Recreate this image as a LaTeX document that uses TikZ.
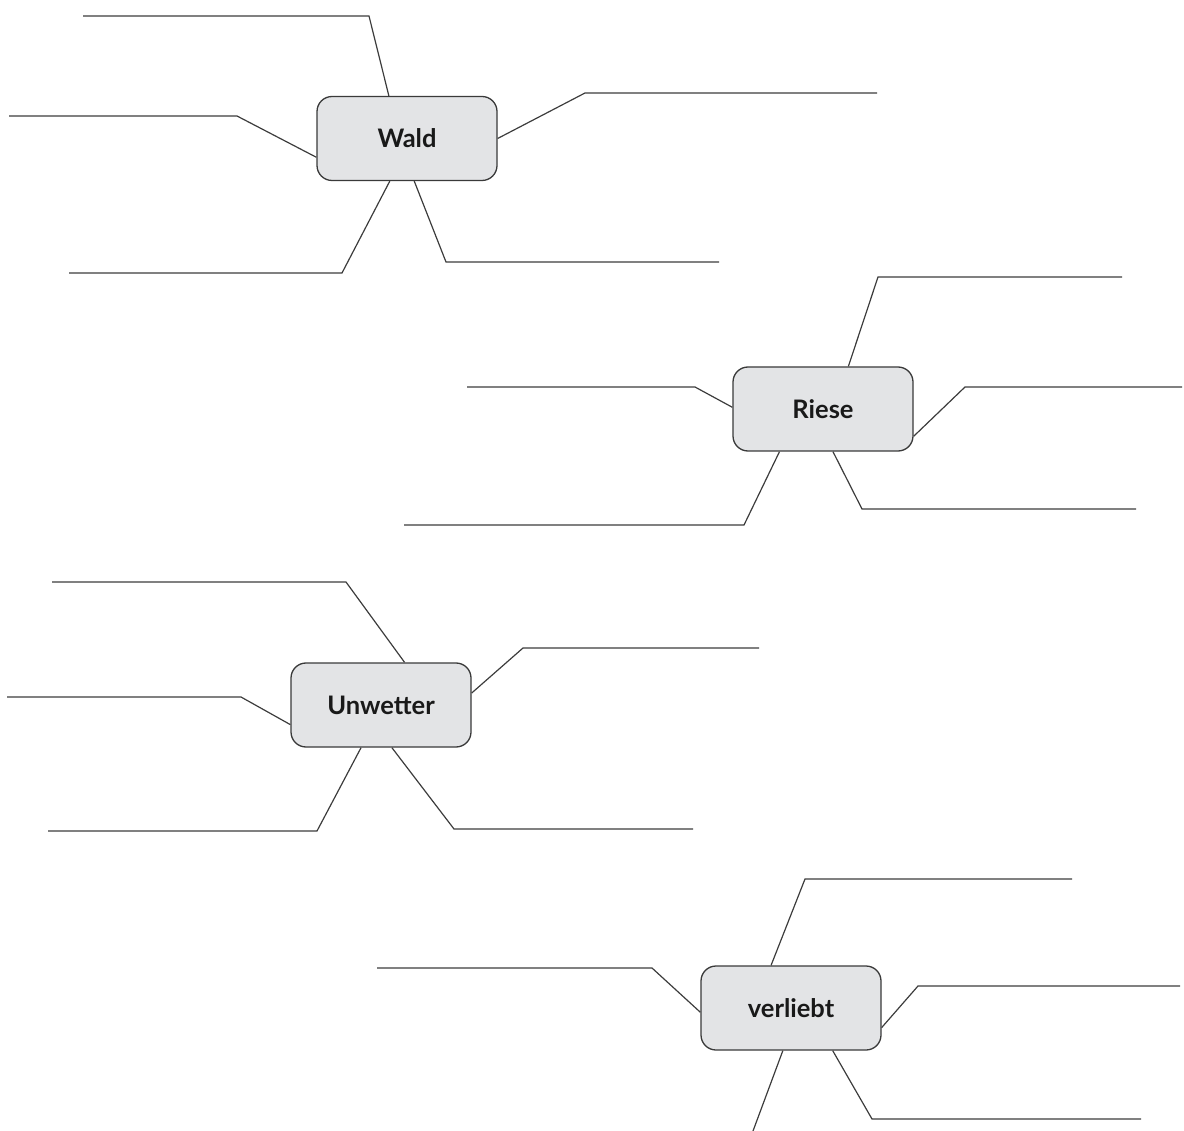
\documentclass[tikz,border=0pt]{standalone}
\usepackage{fontspec}
\setmainfont{Lato}
\usetikzlibrary{calc}
\definecolor{boxfill}{HTML}{E3E4E6}
\definecolor{boxline}{HTML}{3A3A3A}
\definecolor{conn}{HTML}{3C3C3C}
\tikzset{
  topic/.style={draw=boxline, line width=1.3pt, fill=boxfill, rounded corners=15pt,
    minimum width=180pt, minimum height=84pt, inner sep=0pt,
    font=\fontsize{25.5}{28}\selectfont\bfseries, text=black!90},
  branch/.style={draw=conn, line width=1.2pt}
}
\begin{document}
\begin{tikzpicture}[x=1pt,y=-1pt]
\useasboundingbox (0,0) rectangle (1184,1131);

% ---------- Wald ----------
\node[topic] (wald) at (407,138.5) {Wald};
\coordinate (w1a) at (369,16);  \coordinate (w1b) at (83,16);
\coordinate (w2a) at (237,116); \coordinate (w2b) at (9,116);
\coordinate (w3a) at (585,93);  \coordinate (w3b) at (877,93);
\coordinate (w4a) at (342,273); \coordinate (w4b) at (69,273);
\coordinate (w5a) at (446,262); \coordinate (w5b) at (719,262);
\draw[branch] ($(wald.north west)!0.40!(wald.north east)$) -- (w1a) -- (w1b);
\draw[branch] ($(wald.north west)!0.72!(wald.south west)$) -- (w2a) -- (w2b);
\draw[branch] (wald.east) -- (w3a) -- (w3b);
\draw[branch] ($(wald.south west)!0.405!(wald.south east)$) -- (w4a) -- (w4b);
\draw[branch] ($(wald.south west)!0.54!(wald.south east)$) -- (w5a) -- (w5b);

% ---------- Riese ----------
\node[topic] (riese) at (823,409) {Riese};
\coordinate (r1a) at (878,277); \coordinate (r1b) at (1122,277);
\coordinate (r2a) at (695,387); \coordinate (r2b) at (467,387);
\coordinate (r3a) at (965,387); \coordinate (r3b) at (1182,387);
\coordinate (r4a) at (744,525); \coordinate (r4b) at (404,525);
\coordinate (r5a) at (862,509); \coordinate (r5b) at (1136,509);
\draw[branch] ($(riese.north west)!0.64!(riese.north east)$) -- (r1a) -- (r1b);
\draw[branch] ($(riese.north west)!0.48!(riese.south west)$) -- (r2a) -- (r2b);
\draw[branch] ($(riese.north east)!0.82!(riese.south east)$) -- (r3a) -- (r3b);
\draw[branch] ($(riese.south west)!0.26!(riese.south east)$) -- (r4a) -- (r4b);
\draw[branch] ($(riese.south west)!0.555!(riese.south east)$) -- (r5a) -- (r5b);

% ---------- Unwetter ----------
\node[topic] (unw) at (381,705) {Unwetter};
\coordinate (u1a) at (346,582); \coordinate (u1b) at (52,582);
\coordinate (u2a) at (241,697); \coordinate (u2b) at (7,697);
\coordinate (u3a) at (523,648); \coordinate (u3b) at (759,648);
\coordinate (u4a) at (317,831); \coordinate (u4b) at (48,831);
\coordinate (u5a) at (454,829); \coordinate (u5b) at (693,829);
\draw[branch] ($(unw.north west)!0.63!(unw.north east)$) -- (u1a) -- (u1b);
\draw[branch] ($(unw.north west)!0.73!(unw.south west)$) -- (u2a) -- (u2b);
\draw[branch] ($(unw.north east)!0.36!(unw.south east)$) -- (u3a) -- (u3b);
\draw[branch] ($(unw.south west)!0.39!(unw.south east)$) -- (u4a) -- (u4b);
\draw[branch] ($(unw.south west)!0.56!(unw.south east)$) -- (u5a) -- (u5b);

% ---------- verliebt ----------
\node[topic] (verl) at (791,1008) {verliebt};
\coordinate (v1a) at (805,879);  \coordinate (v1b) at (1072,879);
\coordinate (v2a) at (652,968);  \coordinate (v2b) at (377,968);
\coordinate (v3a) at (918,986);  \coordinate (v3b) at (1180,986);
\coordinate (v4a) at (753,1131);
\coordinate (v5a) at (872,1119); \coordinate (v5b) at (1141,1119);
\draw[branch] ($(verl.north west)!0.39!(verl.north east)$) -- (v1a) -- (v1b);
\draw[branch] ($(verl.north west)!0.55!(verl.south west)$) -- (v2a) -- (v2b);
\draw[branch] ($(verl.north east)!0.73!(verl.south east)$) -- (v3a) -- (v3b);
\draw[branch] ($(verl.south west)!0.455!(verl.south east)$) -- (v4a);
\draw[branch] ($(verl.south west)!0.73!(verl.south east)$) -- (v5a) -- (v5b);
\end{tikzpicture}
\end{document}
